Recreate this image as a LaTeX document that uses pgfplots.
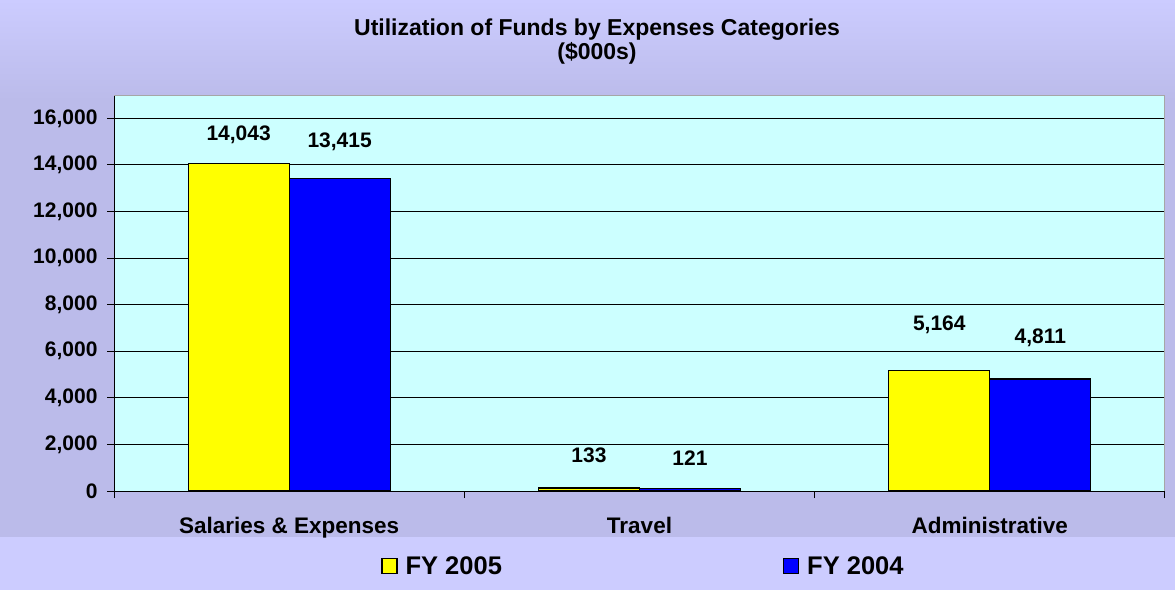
\documentclass[border=0pt]{standalone}
\usepackage{pgfplots}
\pgfplotsset{compat=1.18}
\usepackage{pgfplotstable}
\usepackage{fontspec}
\setmainfont{Liberation Sans}
\definecolor{bgtop}{HTML}{CCCCFF}
\definecolor{bgmid}{HTML}{BBBBEA}
\definecolor{plotbg}{HTML}{CCFFFF}
\definecolor{ybar}{HTML}{FFFF00}
\definecolor{bbar}{HTML}{0000FF}

\pgfplotstableread{
x y off
0 14043 23
1 133 25
2 5164 40
}\fyfive
\pgfplotstableread{
x y off
0 13415 31
1 121 23
2 4811 35
}\fyfour

\begin{document}
\begin{tikzpicture}[x=1pt,y=1pt]
\shade[top color=bgtop, bottom color=bgmid] (0,0) rectangle (1175,-100);
\fill[bgmid] (0,-100) rectangle (1175,-537);
\fill[bgtop] (0,-537) rectangle (1175,-590);
\node[font=\fontsize{23}{24}\selectfont\bfseries, align=center] at (597,-42) {Utilization of Funds by Expenses Categories\\(\$000s)};
\begin{axis}[
  at={(114pt,-491pt)}, anchor=south west,
  scale only axis, width=1051pt, height=396pt,
  xmin=-0.5, xmax=2.5, ymin=0, ymax=17000,
  axis background/.style={fill=plotbg},
  axis x line*=bottom, axis y line*=left,
  axis line style={black, line width=1pt},
  ybar=0pt, bar width=101pt,
  ytick={0,2000,...,16000}, scaled y ticks=false,
  ymajorgrids, grid style={black, line width=0.8pt},
  tick align=outside, major tick length=7pt,
  tick style={black, line width=1pt},
  xtick={-0.5,0.5,1.5,2.5}, xticklabels={},
  extra x ticks={0,1,2},
  extra x tick labels={Salaries \& Expenses, Travel, Administrative},
  extra x tick style={major tick length=0pt, tick label style={yshift=-23pt}},
  /pgf/number format/.cd, 1000 sep={,}, assume math mode=true, /pgfplots/.cd,
  ticklabel style={font=\fontsize{21}{25}\selectfont\bfseries},
  xticklabel style={font=\fontsize{22.5}{27}\selectfont\bfseries},
  yticklabel style={xshift=-6pt},
  nodes near coords,
  nodes near coords style={font=\fontsize{21}{25}\selectfont\bfseries, anchor=base},
  visualization depends on={\thisrow{off} \as \myoff},
  every node near coord/.append style={yshift=\myoff},
  legend columns=2,
  legend style={draw=none, fill=none, at={(axis description cs:0.5038,-0.189)}, anchor=center,
    font=\fontsize{25.5}{30}\selectfont\bfseries,
    /tikz/every even column/.append style={column sep=279pt}},
  legend image code/.code={\draw[#1, draw=black, line width=1.2pt] (0pt,-7.5pt) rectangle (15pt,7.5pt); \path (21pt,0pt);},
]
\addplot[fill=ybar, draw=black, line width=1.2pt] table[x=x, y=y] {\fyfive};
\addplot[fill=bbar, draw=black, line width=1.2pt] table[x=x, y=y] {\fyfour};
\legend{FY 2005, FY 2004}
\draw[gray!70, line width=1pt] (rel axis cs:0,1) -- (rel axis cs:1,1) -- (rel axis cs:1,0);
\end{axis}
\end{tikzpicture}
\end{document}
